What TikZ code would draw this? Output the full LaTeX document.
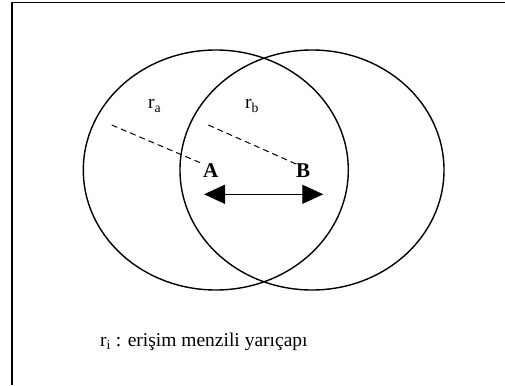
\documentclass[tikz,border=0pt]{standalone}
\usepackage{fontspec}
\setmainfont{Liberation Serif}
\usetikzlibrary{arrows.meta, positioning}

\begin{document}
\begin{tikzpicture}[x=1pt, y=-1pt,
    coverage/.style={line width=1.4pt},
    radiusline/.style={dashed, line width=1pt, dash pattern=on 6pt off 4pt},
    rtext/.style={inner sep=0pt, font=\fontsize{19.5}{23}\selectfont},
    station/.style={inner sep=0pt, font=\fontsize{21}{25}\selectfont\bfseries},
    span/.style={line width=1.3pt, {Triangle[length=21pt, width=19pt]}-{Triangle[length=21pt, width=19pt]}}]
\useasboundingbox (0,0) rectangle (505,385);
\draw[line width=1.6pt] (12,385) -- (12,2.5) -- (505,2.5);

% coverage areas of the two stations
\coordinate (ca) at (215.8,170);
\coordinate (cb) at (312,170);
\draw[coverage] (ca) ellipse [x radius=132.5, y radius=120];
\draw[coverage] (cb) ellipse [x radius=132, y radius=120];

\node[station] (A) at (210.7,171) {A};
\node[station] (B) at (303,171) {B};
\node[rtext, anchor=base west] (ra) at (148,109) {r\textsubscript{a}};
\node[rtext, anchor=base west] (rb) at (245,109) {r\textsubscript{b}};

\coordinate (ea) at (111.7,125);
\coordinate (eb) at (208.3,125);
\draw[radiusline] (ea) -- (A.north west);
\draw[radiusline] (eb) -- (B.north west);

\coordinate (pa) at (204,194.3);
\coordinate (pb) at (323.3,194.3);
\draw[span] (pa) -- (pb);

\node[rtext, anchor=base west] (note) at (100,346.7) {r\textsubscript{i} : erişim menzili yarıçapı};
\end{tikzpicture}
\end{document}
